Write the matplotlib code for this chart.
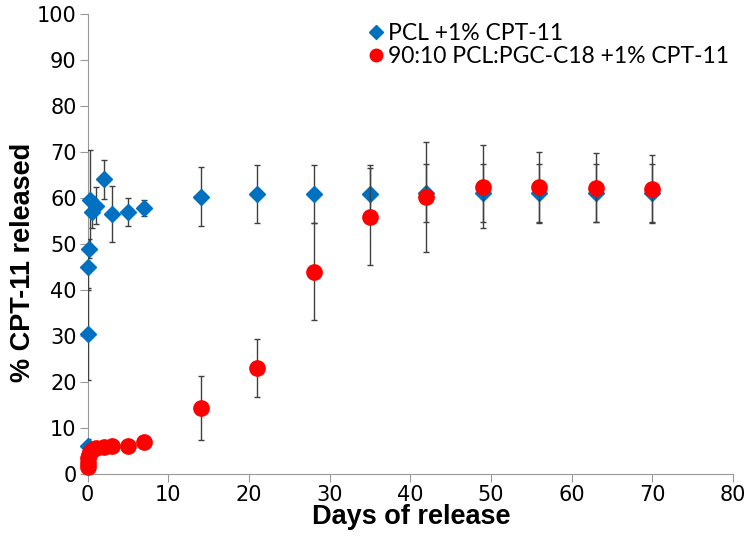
import numpy as np
import matplotlib.pyplot as plt
from matplotlib.lines import Line2D

days = [0, 0.04, 0.08, 0.17, 0.25, 0.5, 1, 2, 3, 5, 7, 14, 21, 28, 35, 42, 49, 56, 63, 70]

pcl = [6, 30.5, 45, 49, 59.5, 57, 58.3, 64, 56.5, 57, 57.8, 60.3, 60.8, 60.9, 60.9, 61, 61, 61, 61, 61]
pcl_err = [1.7, 10, 5, 2, 11, 3.5, 4, 4.3, 6, 3, 1.7, 6.5, 6.3, 6.3, 6.3, 6.3, 6.3, 6.3, 6.3, 6.3]

blend = [1.5, 2.5, 3.5, 4.2, 4.8, 5.3, 5.6, 5.9, 6, 6, 7, 14.3, 23, 44, 55.9, 60.2, 62.4, 62.3, 62.2, 62]
blend_err = [0, 0, 0, 0, 0, 0, 0, 0, 0, 0, 0, 7, 6.3, 10.5, 10.5, 12, 9, 7.7, 7.5, 7.4]

plt.rcParams['font.family'] = ['DejaVu Sans']

fig = plt.figure(figsize=(7.5, 5.5), dpi=100)
ax = fig.add_axes([0.117, 0.138, 0.86, 0.837])

blue = '#0070C0'
red = '#FF0000'

c1 = ax.errorbar(days, pcl, yerr=pcl_err, fmt='D', color=blue, markersize=8,
                 ecolor='#404040', elinewidth=1, capsize=2.5, capthick=1, zorder=3)
c2 = ax.errorbar(days, blend, yerr=blend_err, fmt='o', color=red, markersize=11,
                 ecolor='#404040', elinewidth=1, capsize=2.5, capthick=1, zorder=4)
for c in (c1, c2):
    c[0].set_clip_on(False)

ax.set_xlim(0, 80)
ax.set_ylim(0, 100)
ax.set_xticks(np.arange(0, 81, 10))
ax.set_yticks(np.arange(0, 101, 10))
ax.tick_params(labelsize=15, length=6, color='#999999', pad=2)
ax.spines['top'].set_visible(False)
ax.spines['right'].set_visible(False)
ax.spines['left'].set_color('#999999')
ax.spines['bottom'].set_color('#999999')

ax.set_xlabel('Days of release', fontsize=19.5, fontweight='bold',
              family='Liberation Sans')
ax.set_ylabel('% CPT-11 released', fontsize=19.5, fontweight='bold',
              family='Liberation Sans')
ax.xaxis.set_label_coords(0.502, -0.066)
ax.yaxis.set_label_coords(-0.08, 0.46)

handles = [Line2D([], [], marker='D', color=blue, linestyle='', markersize=7),
           Line2D([], [], marker='o', color=red, linestyle='', markersize=9)]
labels = ['PCL +1% CPT-11', '90:10 PCL:PGC-C18 +1% CPT-11']
ax.legend(handles, labels, loc='upper left', bbox_to_anchor=(0.415, 1.0), frameon=False,
          prop={'family': 'Lato', 'size': 16.5}, handletextpad=0.0,
          handlelength=1.0, labelspacing=0.1, borderaxespad=0.0)

fig.savefig('out.png', dpi=100)
